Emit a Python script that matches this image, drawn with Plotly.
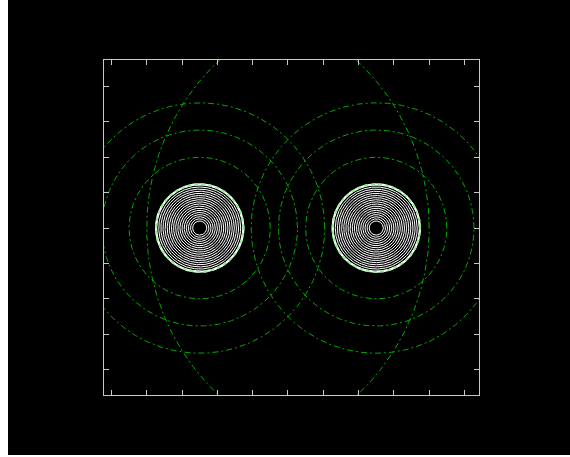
import numpy as np
import plotly.graph_objects as go

# Coil centres (x, y) in axis units
coil_x = [-2.5, 2.5]
coil_y = [0.0, 0.0]

# Winding radii of each coil (inner to outer)
winding_radii = [0.20, 0.26, 0.32, 0.38, 0.44, 0.50, 0.56, 0.62, 0.68, 0.74,
                 0.80, 0.86, 0.92, 0.98, 1.04, 1.10, 1.16, 1.22]
outer_ring_radius = 1.24

# Radii of the dash-dot field contours around each coil
field_radii = [2.0, 2.77, 3.54, 6.5]

theta = np.linspace(0, 2 * np.pi, 721)

fig = go.Figure()

for cx, cy in zip(coil_x, coil_y):
    for r in field_radii:
        fig.add_trace(go.Scatter(
            x=cx + r * np.cos(theta), y=cy + r * np.sin(theta),
            mode="lines", hoverinfo="skip",
            line=dict(color="rgb(0,170,0)", width=1, dash="6px,3px,2px,3px"),
        ))

for cx, cy in zip(coil_x, coil_y):
    for r in winding_radii:
        fig.add_trace(go.Scatter(
            x=cx + r * np.cos(theta), y=cy + r * np.sin(theta),
            mode="lines", hoverinfo="skip",
            line=dict(color="white", width=1),
        ))
    fig.add_trace(go.Scatter(
        x=cx + outer_ring_radius * np.cos(theta),
        y=cy + outer_ring_radius * np.sin(theta),
        mode="lines", hoverinfo="skip",
        line=dict(color="white", width=2),
    ))
    fig.add_trace(go.Scatter(
        x=cx + outer_ring_radius * np.cos(theta),
        y=cy + outer_ring_radius * np.sin(theta),
        mode="lines", hoverinfo="skip",
        line=dict(color="rgb(140,240,140)", width=2, dash="4px,3px"),
    ))

axis_style = dict(
    showgrid=False, zeroline=False, showticklabels=False,
    showline=True, linecolor="rgb(200,200,200)", linewidth=1,
    mirror="ticks", ticks="inside", ticklen=5, tickwidth=1,
    tickcolor="rgb(200,200,200)", dtick=1, tick0=0,
)

W, H = 570, 457
L, R, T, B = 104, 91, 60, 62
pw, ph = W - L - R, H - T - B


def px_x(px):
    return (px - L) / pw


def px_y(py):
    return (H - B - py) / ph


fig.update_layout(
    width=W, height=H,
    margin=dict(l=L, r=R, t=T, b=B),
    paper_bgcolor="black", plot_bgcolor="black",
    showlegend=False,
    xaxis=dict(range=[-5.21, 5.41], **axis_style),
    yaxis=dict(range=[-4.72, 4.75], **axis_style),
    shapes=[
        # white strip on the left edge of the canvas
        dict(type="rect", xref="paper", yref="paper",
             x0=px_x(-2), x1=px_x(8), y0=px_y(H + 2), y1=px_y(-2),
             fillcolor="white", line=dict(width=0), layer="above"),
        # white strip along the bottom edge
        dict(type="rect", xref="paper", yref="paper",
             x0=px_x(-2), x1=px_x(W + 2), y0=px_y(H + 2), y1=px_y(455),
             fillcolor="white", line=dict(width=0), layer="above"),
    ],
)

fig.write_html("out.html")
